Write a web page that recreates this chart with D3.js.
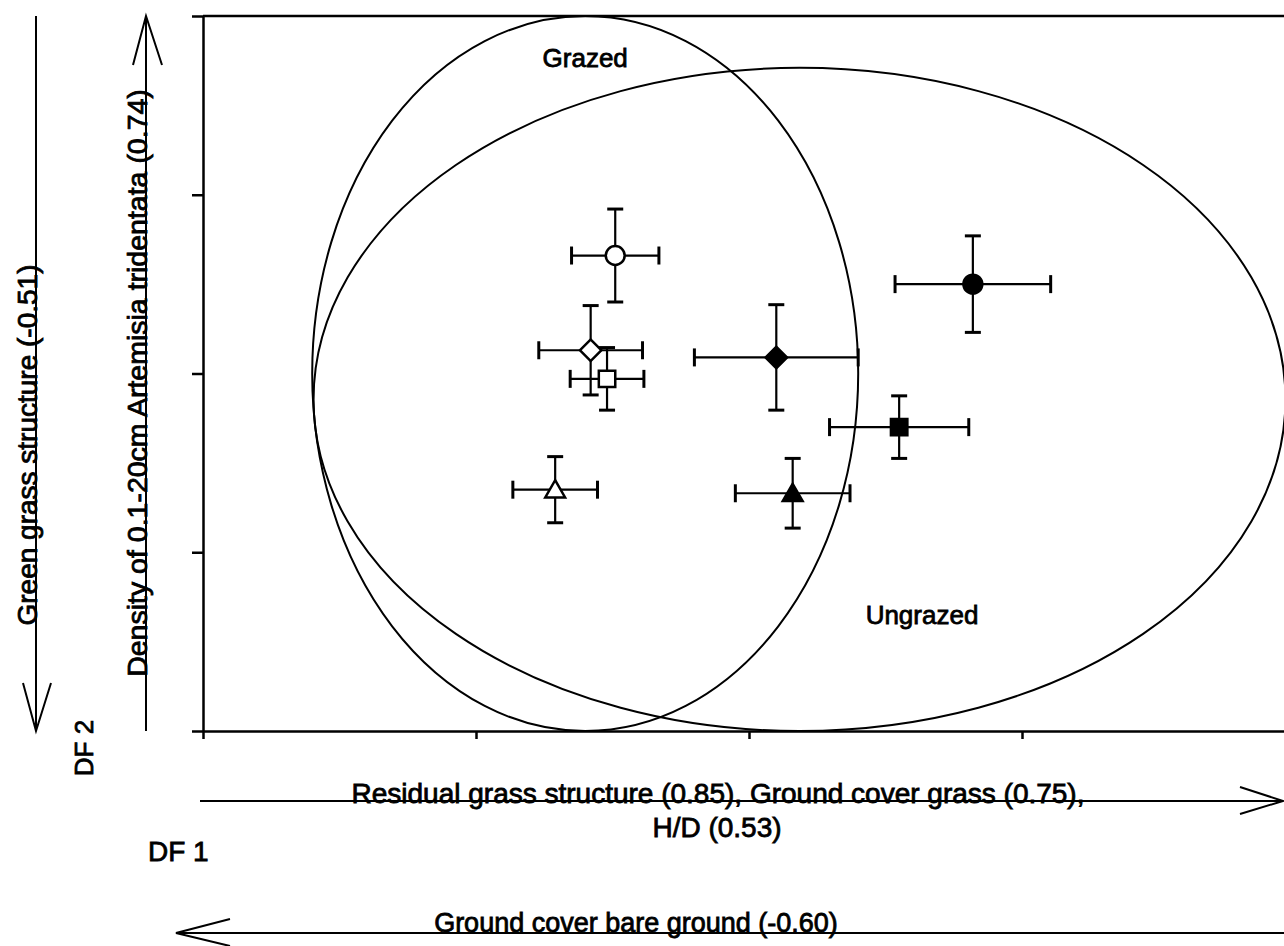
<!DOCTYPE html>
<html>
<head>
<meta charset="utf-8">
<script src="https://cdn.jsdelivr.net/npm/d3@7"></script>
<style>
  body { margin: 0; background: #fff; }
  svg text { font-family: "Liberation Sans", Arial, sans-serif; fill: #000; stroke: #000; stroke-width: 0.8px; }
</style>
</head>
<body>
<div id="chart"></div>
<script>
// Discriminant function scores (group means) with error bars
const groups = ["Open circle", "Open diamond", "Open square", "Open triangle",
                "Filled triangle", "Filled diamond", "Filled circle", "Filled square"];
const shapes = ["circle", "diamond", "square", "triangle",
                "triangle", "diamond", "circle", "square"];
const filled = [false, false, false, false, true, true, true, true];
const df1 = [-0.49, -0.58, -0.52, -0.71, 0.16, 0.10, 0.82, 0.55];
const df2 = [0.66, 0.13, -0.03, -0.65, -0.67, 0.09, 0.50, -0.30];
const df1Err = [0.16, 0.19, 0.135, 0.155, 0.21, 0.30, 0.285, 0.255];
const df2Err = [0.26, 0.25, 0.175, 0.185, 0.195, 0.295, 0.27, 0.175];

// Group ellipses
const ellipseNames = ["Grazed", "Ungrazed"];
const ellipseCx = [-0.60, 0.185];
const ellipseCy = [0.0, -0.145];
const ellipseRx = [1.0, 1.78];
const ellipseRy = [2.0, 1.855];

const xTicks = [-2, -1, 0, 1, 2];
const yTicks = [-2, -1, 0, 1, 2];

const W = 1284, H = 946;
const margin = { top: 16, left: 203 };
const plotW = 1092, plotH = 715;

const svg = d3.select("#chart")
  .append("svg")
  .attr("width", W)
  .attr("height", H);

const x = d3.scaleLinear().domain([-2, 2]).range([margin.left, margin.left + plotW]);
const y = d3.scaleLinear().domain([-2, 2]).range([margin.top + plotH, margin.top]);

// Ellipses
svg.append("g")
  .selectAll("ellipse")
  .data(ellipseNames)
  .enter()
  .append("ellipse")
  .attr("cx", (d, i) => x(ellipseCx[i]))
  .attr("cy", (d, i) => y(ellipseCy[i]))
  .attr("rx", (d, i) => x(ellipseRx[i]) - x(0))
  .attr("ry", (d, i) => y(0) - y(ellipseRy[i]))
  .attr("fill", "none")
  .attr("stroke", "#000")
  .attr("stroke-width", 2);

// Axes
const axisStyle = g => {
  g.selectAll("path, line").attr("stroke", "#000").attr("stroke-width", 2.5);
};

svg.append("g")
  .attr("transform", `translate(0,${y(-2)})`)
  .call(d3.axisBottom(x).tickValues(xTicks).tickSize(8).tickSizeOuter(0).tickFormat(""))
  .call(axisStyle);

svg.append("g")
  .attr("transform", `translate(${x(-2)},0)`)
  .call(d3.axisLeft(y).tickValues(yTicks).tickSize(11).tickSizeOuter(0).tickFormat(""))
  .call(axisStyle);

// top frame line
svg.append("line")
  .attr("x1", x(-2)).attr("x2", x(2))
  .attr("y1", y(2)).attr("y2", y(2))
  .attr("stroke", "#000")
  .attr("stroke-width", 2.5);

// Error bars
const capH = 9, capV = 8;
const bars = svg.append("g")
  .attr("stroke", "#000")
  .attr("stroke-width", 2.2)
  .selectAll("g")
  .data(groups)
  .enter()
  .append("g");

bars.append("line")
  .attr("x1", (d, i) => x(df1[i] - df1Err[i]))
  .attr("x2", (d, i) => x(df1[i] + df1Err[i]))
  .attr("y1", (d, i) => y(df2[i]))
  .attr("y2", (d, i) => y(df2[i]));
bars.append("line")
  .attr("x1", (d, i) => x(df1[i]))
  .attr("x2", (d, i) => x(df1[i]))
  .attr("y1", (d, i) => y(df2[i] - df2Err[i]))
  .attr("y2", (d, i) => y(df2[i] + df2Err[i]));
// caps
[-1, 1].forEach(s => {
  bars.append("line")
    .attr("stroke-width", 3)
    .attr("x1", (d, i) => x(df1[i] + s * df1Err[i]))
    .attr("x2", (d, i) => x(df1[i] + s * df1Err[i]))
    .attr("y1", (d, i) => y(df2[i]) - capH)
    .attr("y2", (d, i) => y(df2[i]) + capH);
  bars.append("line")
    .attr("stroke-width", 3)
    .attr("x1", (d, i) => x(df1[i]) - capV)
    .attr("x2", (d, i) => x(df1[i]) + capV)
    .attr("y1", (d, i) => y(df2[i] + s * df2Err[i]))
    .attr("y2", (d, i) => y(df2[i] + s * df2Err[i]));
});

// Markers
const symbolType = { circle: d3.symbolCircle, diamond: d3.symbolSquare, square: d3.symbolSquare, triangle: d3.symbolTriangle };
const symbolSize = { circle: 280, diamond: 230, square: 270, triangle: 170 };

svg.append("g")
  .selectAll("path")
  .data(groups)
  .enter()
  .append("path")
  .attr("d", (d, i) => d3.symbol().type(symbolType[shapes[i]]).size(symbolSize[shapes[i]])())
  .attr("transform", (d, i) => {
    const rot = shapes[i] === "diamond" ? " rotate(45)" : "";
    const dy = shapes[i] === "triangle" ? 2 : 0;
    return `translate(${x(df1[i])},${y(df2[i]) + dy})${rot}`;
  })
  .attr("fill", (d, i) => filled[i] ? "#000" : "#fff")
  .attr("stroke", "#000")
  .attr("stroke-width", 2.5);

// Ellipse labels
svg.append("text")
  .attr("x", x(ellipseCx[0])).attr("y", 67)
  .attr("text-anchor", "middle")
  .style("font-size", "26px")
  .text(ellipseNames[0]);
svg.append("text")
  .attr("x", 922).attr("y", 624)
  .attr("text-anchor", "middle")
  .style("font-size", "26px")
  .text(ellipseNames[1]);

// Loading arrows and labels
const ann = svg.append("g")
  .attr("stroke", "#000")
  .attr("stroke-width", 2)
  .attr("fill", "none");

// DF 2 negative (down)
ann.append("path").attr("d", "M36,16 L36,731 M23,683 L36,731 L51,683");
// DF 2 positive (up)
ann.append("path").attr("d", "M146,731 L146,16 M133,65 L146,16 L162,65");
// DF 1 positive (right)
ann.append("path").attr("d", "M200,801 L1283,801 M1240,787 L1283,801 L1240,814");
// DF 1 negative (left)
ann.append("path").attr("d", "M1284,933 L176,933 M230,919 L176,933 L230,946");

const labelSize = "28px";
svg.append("text")
  .attr("transform", "translate(37,445) rotate(-90)")
  .attr("text-anchor", "middle")
  .style("font-size", labelSize)
  .text("Green grass structure (-0.51)");
svg.append("text")
  .attr("transform", "translate(147,383) rotate(-90)")
  .attr("text-anchor", "middle")
  .style("font-size", "28.5px")
  .text("Density of 0.1-20cm Artemisia tridentata (0.74)");
svg.append("text")
  .attr("transform", "translate(93,748) rotate(-90)")
  .attr("text-anchor", "middle")
  .style("font-size", "26px")
  .text("DF 2");

svg.append("text")
  .attr("x", 718).attr("y", 803)
  .attr("text-anchor", "middle")
  .style("font-size", labelSize)
  .text("Residual grass structure (0.85), Ground cover grass (0.75),");
svg.append("text")
  .attr("x", 717).attr("y", 837)
  .attr("text-anchor", "middle")
  .style("font-size", labelSize)
  .text("H/D (0.53)");
svg.append("text")
  .attr("x", 148).attr("y", 861)
  .style("font-size", labelSize)
  .text("DF 1");
svg.append("text")
  .attr("x", 636).attr("y", 932)
  .attr("text-anchor", "middle")
  .style("font-size", "27px")
  .text("Ground cover bare ground (-0.60)");
</script>
</body>
</html>
